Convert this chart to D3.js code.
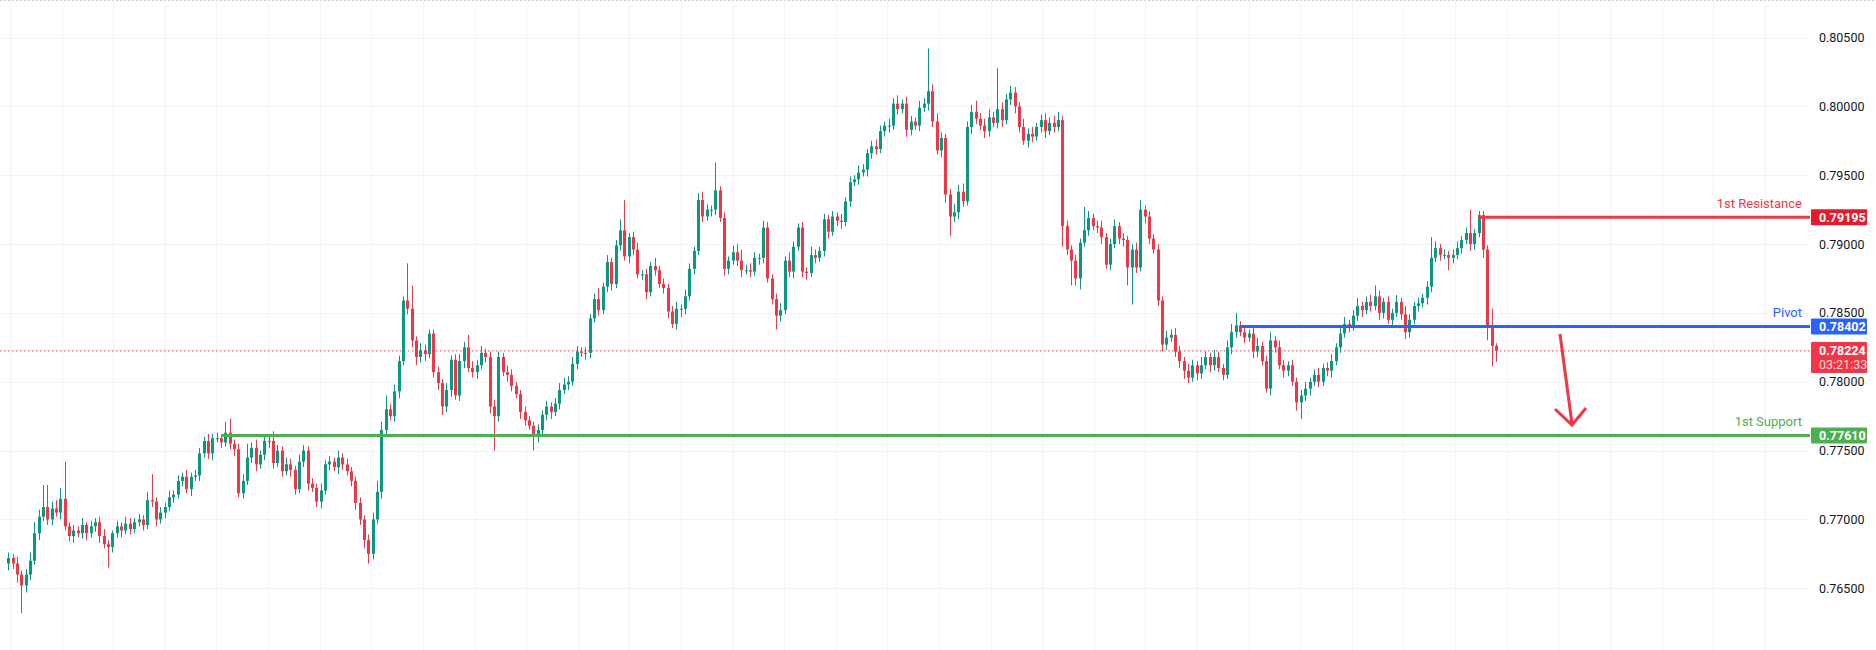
<!DOCTYPE html>
<html>
<head>
<meta charset="utf-8">
<script src="https://cdn.jsdelivr.net/npm/d3@7"></script>
<style>
  html, body { margin: 0; padding: 0; background: #fff; overflow: hidden; }
  text { font-family: Roboto, "Liberation Sans", sans-serif; }
</style>
</head>
<body>
<script>
// closes in pips (x 0.0001); open = previous close
var closes = [
  7672,7668,7660,7652,7660,7670,7690,7702,7709,7700,
  7708,7705,7715,7695,7688,7692,7690,7696,7690,7695,
  7698,7688,7682,7680,7690,7695,7692,7697,7693,7698,
  7700,7696,7714,7713,7700,7705,7709,7716,7718,7728,
  7731,7722,7731,7732,7748,7757,7748,7759,7759,7756,
  7763,7755,7751,7719,7728,7745,7752,7740,7747,7757,
  7757,7741,7750,7735,7740,7736,7722,7742,7750,7726,
  7723,7713,7721,7740,7742,7738,7745,7740,7735,7728,
  7712,7700,7685,7675,7700,7720,7765,7780,7775,7793,
  7815,7859,7853,7830,7818,7823,7820,7835,7807,7799,
  7782,7794,7816,7790,7815,7825,7810,7807,7812,7821,
  7818,7782,7775,7818,7807,7805,7797,7791,7778,7772,
  7768,7760,7765,7776,7782,7778,7784,7794,7798,7800,
  7813,7822,7821,7821,7846,7860,7852,7869,7887,7871,
  7899,7910,7891,7905,7896,7878,7878,7865,7884,7881,
  7871,7868,7851,7842,7853,7853,7862,7882,7895,7932,
  7920,7925,7925,7939,7919,7882,7888,7894,7888,7881,
  7881,7880,7890,7890,7912,7875,7860,7848,7852,7888,
  7880,7898,7912,7880,7879,7892,7890,7895,7918,7909,
  7920,7917,7916,7931,7945,7947,7952,7954,7966,7971,
  7969,7982,7986,7986,8002,7998,8002,7983,7989,7986,
  7999,8002,8011,7989,7968,7977,7936,7920,7923,7938,
  7931,7985,7996,7991,7986,7982,7992,7988,7998,7990,
  8005,8010,8000,7985,7975,7980,7978,7985,7990,7982,
  7988,7985,7990,7913,7896,7888,7875,7901,7910,7919,
  7913,7912,7905,7885,7900,7913,7904,7903,7883,7896,
  7883,7925,7920,7904,7896,7859,7827,7832,7834,7822,
  7815,7808,7803,7812,7806,7812,7818,7812,7818,7810,
  7805,7825,7836,7841,7836,7832,7835,7822,7826,7815,
  7795,7830,7825,7812,7808,7812,7800,7785,7790,7795,
  7800,7805,7800,7810,7808,7815,7825,7835,7842,7840,
  7848,7855,7852,7858,7855,7862,7850,7858,7845,7850,
  7858,7849,7836,7845,7855,7857,7861,7869,7890,7897,
  7892,7892,7890,7892,7897,7903,7908,7900,7908,7921,
  7896,7840,7826,7822.4
];
var firstOpen = 7668;
// wick lengths in pips above / below the body
var wickUp = [
  4,3,5,3,4,6,8,5,16,16, 5,6,8,27,3,4,3,5,2,4, 3,4,5,3,2,4,3,5,4,3, 4,3,6,19,3,4,3,5,3,4,
  3,5,3,4,4,3,5,3,4,3, 8,10,3,4,5,10,4,6,3,5, 3,7,4,3,5,4,3,5,4,3, 4,3,5,3,4,3,5,3,4,3,
  3,4,3,4,5,8,6,10,4,5, 4,3,27,17,3,5,4,3,3,4, 3,5,3,4,5,4,9,5,4,5, 3,4,5,4,3,5,4,3,3,4,
  3,3,4,3,4,3,4,5,5,4, 5,4,3,4,3,4,8,3,5,3, 4,8,22,3,4,5,3,4,3,6, 3,4,3,4,5,3,5,4,3,5,
  6,4,3,20,3,4,3,5,6,8, 4,5,4,3,5,4,3,4,5,3, 6,4,3,4,3,6,4,3,4,3, 4,3,5,3,4,3,5,4,3,4,
  5,4,3,5,4,6,3,5,4,3, 5,4,31,5,6,4,3,4,6,5, 6,4,5,8,4,5,6,4,30,5, 4,5,4,3,6,4,5,3,4,5,
  4,5,6,3,4,3,4,3,17,5, 3,4,5,3,4,5,3,4,3,4, 5,7,3,4,3,4,3,5,4,5, 4,3,5,4,3,6,4,3,5,4,
  3,5,6,9,3,4,3,4,6,3, 4,6,3,5,4,3,4,3,4,5, 3,4,5,3,4,5,3,4,5,3, 4,6,3,4,5,8,4,3,4,3,
  5,3,6,4,3,4,3,4,15,5, 3,4,3,4,5,3,4,17,3,3, 3,3,13,2
];
var wickDn = [
  5,4,6,20,5,4,3,5,3,4, 4,3,5,3,4,5,3,4,5,3, 4,5,3,15,4,3,5,3,4,3, 3,4,3,4,5,3,4,3,4,3,
  4,3,5,3,4,3,4,5,3,4, 3,4,5,3,4,3,4,5,3,4, 5,4,3,4,3,5,4,3,4,5, 3,4,5,3,4,3,5,4,3,4,
  5,4,6,7,4,3,5,4,3,4, 5,3,4,5,6,4,5,3,4,5, 6,4,5,3,4,5,3,4,5,3, 4,5,25,4,3,5,4,3,5,4,
  3,10,4,3,4,5,3,4,3,4, 3,4,3,5,4,3,4,3,4,5, 3,4,3,5,4,3,4,5,3,4, 3,4,5,3,4,6,4,3,4,3,
  4,3,5,4,3,5,4,3,4,5, 3,4,3,5,4,3,4,10,4,3, 4,5,3,4,5,3,4,3,4,5, 3,4,5,3,4,3,4,3,5,4,
  4,3,4,5,3,4,3,5,4,3, 4,3,5,4,3,5,6,14,4,5, 4,3,5,4,3,5,4,3,4,5, 3,4,5,4,3,5,4,3,4,5,
  3,4,3,15,4,18,5,8,3,4, 3,4,5,3,4,3,4,5,13,27, 4,3,5,4,3,4,5,4,3,4, 5,6,4,3,5,4,3,5,4,3,
  4,3,5,4,3,4,3,5,4,3, 3,5,4,3,5,4,3,6,12,4, 5,3,4,3,4,5,3,4,3,4, 3,4,5,3,4,3,5,4,3,4,
  3,4,5,4,3,4,3,5,4,3, 4,3,9,4,3,4,3,5,4,3, 6,10,15,8
];
var priceTicks = [0.765, 0.770, 0.775, 0.780, 0.785, 0.790, 0.795, 0.800, 0.805];
var levels = [
  {name: "1st Resistance", price: 0.79195, color: "#f23645", box: "#e8192c", from: 339},
  {name: "Pivot", price: 0.78402, color: "#2962ff", box: "#2962ff", from: 284},
  {name: "1st Support", price: 0.77610, color: "#4caf50", box: "#4caf50", from: 49}
];
var lastPrice = 0.78224, countdown = "03:21:33";

var W = 1876, H = 650, plotR = 1810;
var candles = closes.map(function(c, i) {
  var o = (i === 0 ? firstOpen : closes[i - 1]) / 1e4, cl = c / 1e4;
  return {i: i, o: o, c: cl,
    h: Math.max(o, cl) + wickUp[i] / 1e4,
    l: Math.min(o, cl) - wickDn[i] / 1e4};
});

var x = d3.scaleLinear().domain([0, closes.length - 1]).range([8.4, 1496]);
var y = d3.scaleLinear().domain([0.765, 0.805]).range([588.3, 37.5]);

var svg = d3.select("body").append("svg").attr("width", W).attr("height", H);

// top border
svg.append("line").attr("x1", 0).attr("x2", W).attr("y1", 0.5).attr("y2", 0.5)
  .attr("stroke", "#c8cad0").attr("stroke-dasharray", "2,2");

// grid
var vg = d3.range(0.37, 420, 11.9).map(x).filter(function(v) { return v < plotR; });
svg.selectAll(".vg").data(vg).enter().append("line")
  .attr("x1", function(d) { return Math.round(d) + 0.5; }).attr("x2", function(d) { return Math.round(d) + 0.5; })
  .attr("y1", 0).attr("y2", H).attr("stroke", "#f0f3fa");
svg.selectAll(".hg").data(priceTicks).enter().append("line")
  .attr("x1", 0).attr("x2", plotR)
  .attr("y1", function(d) { return Math.round(y(d)) + 0.5; }).attr("y2", function(d) { return Math.round(y(d)) + 0.5; })
  .attr("stroke", "#f0f3fa");

// axis labels
svg.selectAll(".tl").data(priceTicks).enter().append("text")
  .attr("x", 1819).attr("y", function(d) { return y(d) + 4.5; })
  .attr("font-size", 12.5).attr("fill", "#131722")
  .text(function(d) { return d.toFixed(5); });

// last price dotted line
svg.append("line").attr("x1", 0).attr("x2", plotR)
  .attr("y1", y(lastPrice)).attr("y2", y(lastPrice))
  .attr("stroke", "#f23645").attr("stroke-dasharray", "1.5,2.5");

// candles
var g = svg.append("g");
g.selectAll(".wick").data(candles).enter().append("line")
  .attr("x1", function(d) { return Math.round(x(d.i)) + 0.5; })
  .attr("x2", function(d) { return Math.round(x(d.i)) + 0.5; })
  .attr("y1", function(d) { return y(d.h); }).attr("y2", function(d) { return y(d.l); })
  .attr("stroke", function(d) { return d.c >= d.o ? "#089981" : "#f23645"; });
g.selectAll(".body").data(candles).enter().append("rect")
  .attr("x", function(d) { return Math.round(x(d.i)) - 1; })
  .attr("width", 3)
  .attr("y", function(d) { return y(Math.max(d.o, d.c)); })
  .attr("height", function(d) { return Math.max(1, Math.abs(y(d.o) - y(d.c))); })
  .attr("fill", function(d) { return d.c >= d.o ? "#089981" : "#f23645"; });

// levels
levels.forEach(function(l) {
  var yy = y(l.price);
  svg.append("line").attr("x1", x(l.from)).attr("x2", plotR).attr("y1", yy).attr("y2", yy)
    .attr("stroke", l.color).attr("stroke-width", 3);
  svg.append("text").attr("x", 1802).attr("y", yy - 9).attr("text-anchor", "end")
    .attr("font-size", 13).attr("fill", l.color).text(l.name);
  svg.append("rect").attr("x", 1811).attr("y", yy - 8).attr("width", 56).attr("height", 16)
    .attr("rx", 1).attr("fill", l.box);
  svg.append("text").attr("x", 1819).attr("y", yy + 4.5).attr("font-size", 12.5)
    .attr("font-weight", "bold").attr("fill", "#fff").text(l.price.toFixed(5));
});

// last price label
var ly = y(lastPrice);
svg.append("rect").attr("x", 1811).attr("y", ly - 9).attr("width", 56).attr("height", 31)
  .attr("rx", 1).attr("fill", "#f23645");
svg.append("text").attr("x", 1819).attr("y", ly + 4.5).attr("font-size", 12.5)
  .attr("font-weight", "bold").attr("fill", "#fff").text(lastPrice.toFixed(5));
svg.append("text").attr("x", 1819).attr("y", ly + 18.5).attr("font-size", 12.5)
  .attr("fill", "#ffd5d8").text(countdown);

// arrow
svg.append("path").attr("d", "M1560,334 L1572,424 M1555,409 L1572,425 L1586,408")
  .attr("fill", "none").attr("stroke", "#f23645").attr("stroke-width", 3);
</script>
</body>
</html>
